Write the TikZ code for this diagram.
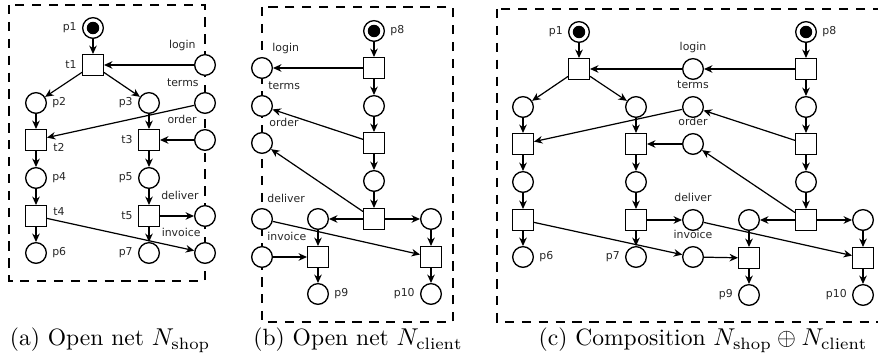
\documentclass[tikz,border=0pt]{standalone}
\usepackage{fontspec}
\newfontfamily\lblfont{DejaVu Sans}
\usetikzlibrary{arrows.meta,calc}
\begin{document}
\begin{tikzpicture}[x=0.45pt,y=-0.45pt,
  place/.style={circle,draw,fill=white,line width=0.6pt,minimum size=9.3pt,inner sep=0pt},
  marked/.style={place,path picture={\fill[black] (path picture bounding box.center) circle (2.8pt);}},
  trans/.style={rectangle,draw,fill=white,line width=0.6pt,minimum size=9.3pt,inner sep=0pt},
  arc/.style={-{Stealth[length=3.8pt,width=3.4pt]},line width=0.55pt},
  lbl/.style={font=\lblfont\fontsize{4.9}{5}\selectfont,text=black!85,inner sep=0pt},
  pl/.style={label={[lbl,label distance=2.2pt]left:#1}},
  pr/.style={label={[lbl,label distance=2.2pt]right:#1}},
  box/.style={dash pattern=on 4.2pt off 3.4pt,line width=0.55pt,draw=black},
  capt/.style={anchor=base,inner sep=0pt,font=\fontsize{10.6}{12}\selectfont}
]
\useasboundingbox (0,0) rectangle (878,360);

% ---------------- dashed boxes ----------------
\draw[box] (9,5) rectangle (205,281);
\draw[box] (262,7) rectangle (453,322);
\draw[box] (497,9) rectangle (900,322);

% ---------------- (a) shop ----------------
\node[marked,pl=p1] (pa1) at (93,28) {};
\node[trans,pl=t1] (ta1) at (93,65) {};
\node[place] (ia-login) at (205,65) {};
\node[place,pr=p2] (pa2) at (36,103) {};
\node[place,pl=p3] (pa3) at (149,103) {};
\node[place] (ia-terms) at (205,103) {};
\node[trans] (ta2) at (36,140) {};
\node[trans,pl=t3] (ta3) at (149,140) {};
\node[place] (ia-order) at (205,140) {};
\node[place,pr=p4] (pa4) at (36,178) {};
\node[place,pl=p5] (pa5) at (149,178) {};
\node[trans] (ta4) at (36,216) {};
\node[trans,pl=t5] (ta5) at (149,216) {};
\node[place] (ia-deliver) at (205,216) {};
\node[place,pr=p6] (pa6) at (36,253) {};
\node[place,pl=p7] (pa7) at (149,253) {};
\node[place] (ia-invoice) at (205,253) {};
\node[lbl,anchor=west] (lta2) at ($(ta2.east)+(6,7)$) {t2};
\node[lbl,anchor=west] (lta4) at ($(ta4.east)+(6,-4)$) {t4};
\node[lbl,anchor=base east] (la-login) at ($(ia-login)+(-9,-16)$) {login};
\node[lbl,anchor=base east] (la-terms) at ($(ia-terms)+(-6,-16)$) {terms};
\node[lbl,anchor=base east] (la-order) at ($(ia-order)+(-8,-16)$) {order};
\node[lbl,anchor=base east] (la-deliver) at ($(ia-deliver)+(-6,-16)$) {deliver};
\node[lbl,anchor=base east] (la-invoice) at ($(ia-invoice)+(-4,-16)$) {invoice};
\foreach \a/\b in {pa1/ta1,ia-login/ta1,ta1/pa2,ta1/pa3,pa2/ta2,ia-terms/ta2,pa3/ta3,
  ia-order/ta3,ta2/pa4,ta3/pa5,pa4/ta4,pa5/ta5,ta4/pa6,ta5/pa7,ta5/ia-deliver,ta4/ia-invoice}
  \draw[arc] (\a) -- (\b);

% ---------------- (b) client ----------------
\node[marked,pr=p8] (pb8) at (374,31) {};
\node[trans] (tb1) at (374,68) {};
\node[place] (ib-login) at (262,68) {};
\node[place] (pba) at (374,106) {};
\node[place] (ib-terms) at (262,106) {};
\node[trans] (tb2) at (374,143) {};
\node[place] (ib-order) at (262,143) {};
\node[place] (pbb) at (374,181) {};
\node[trans] (tb3) at (374,219) {};
\node[place] (ib-deliver) at (262,219) {};
\node[place] (pbl) at (318,219) {};
\node[place] (pbr) at (431,219) {};
\node[place] (ib-invoice) at (262,257) {};
\node[trans] (tb4) at (318,257) {};
\node[trans] (tb5) at (431,257) {};
\node[place,pr=p9] (pb9) at (318,294) {};
\node[place,pl=p10] (pb10) at (431,294) {};
\node[lbl,anchor=base west] (lb-login) at ($(ib-login)+(10,-16)$) {login};
\node[lbl,anchor=base west] (lb-terms) at ($(ib-terms)+(6,-16)$) {terms};
\node[lbl,anchor=base west] (lb-order) at ($(ib-order)+(7,-16)$) {order};
\node[lbl,anchor=base west] (lb-deliver) at ($(ib-deliver)+(5,-16)$) {deliver};
\node[lbl,anchor=base west] (lb-invoice) at ($(ib-invoice)+(5,-16)$) {invoice};
\foreach \a/\b in {pb8/tb1,tb1/ib-login,tb1/pba,pba/tb2,tb2/ib-terms,tb2/pbb,pbb/tb3,
  tb3/ib-order,tb3/pbl,tb3/pbr,pbl/tb4,ib-invoice/tb4,ib-deliver/tb5,pbr/tb5,tb4/pb9,tb5/pb10}
  \draw[arc] (\a) -- (\b);

% ---------------- (c) composition ----------------
\node[marked,pl=p1] (pc1) at (579,32) {};
\node[trans] (tc1) at (579,69) {};
\node[place] (c-login) at (693,69) {};
\node[marked,pr=p8] (pc8) at (806,32) {};
\node[trans] (tc6) at (806,69) {};
\node[place] (pc2) at (523,107) {};
\node[place] (pc3) at (636,107) {};
\node[place] (c-terms) at (693,107) {};
\node[place] (pca) at (806,107) {};
\node[trans] (tc2) at (523,144) {};
\node[trans] (tc3) at (636,144) {};
\node[place] (c-order) at (693,144) {};
\node[trans] (tc7) at (806,144) {};
\node[place] (pc4) at (523,182) {};
\node[place] (pc5) at (636,182) {};
\node[place] (pcb) at (806,182) {};
\node[trans] (tc4) at (523,220) {};
\node[trans] (tc5) at (636,220) {};
\node[place] (c-deliver) at (693,220) {};
\node[place] (pcl) at (749,220) {};
\node[trans] (tc8) at (806,220) {};
\node[place] (pcr) at (863,220) {};
\node[place,pr=p6] (pc6) at (523,257) {};
\node[place,pl=p7] (pc7) at (636,257) {};
\node[place] (c-invoice) at (693,257) {};
\node[trans] (tc9) at (749,258) {};
\node[trans] (tc10) at (863,258) {};
\node[place,pl=p9] (pc9) at (749,295) {};
\node[place,pl=p10] (pc10) at (863,295) {};
\foreach \n/\t in {login/login,terms/terms,order/order,deliver/deliver,invoice/invoice}
  \node[lbl,anchor=base] (lc-\n) at ($(c-\n)+(0,-18)$) {\t};
\foreach \a/\b in {pc1/tc1,c-login/tc1,tc1/pc2,tc1/pc3,pc2/tc2,c-terms/tc2,pc3/tc3,
  c-order/tc3,tc2/pc4,tc3/pc5,pc4/tc4,pc5/tc5,tc4/pc6,tc5/pc7,tc5/c-deliver,tc4/c-invoice,
  pc8/tc6,tc6/c-login,tc6/pca,pca/tc7,tc7/c-terms,tc7/pcb,pcb/tc8,tc8/c-order,tc8/pcl,
  tc8/pcr,pcl/tc9,c-invoice/tc9,c-deliver/tc10,pcr/tc10,tc9/pc9,tc10/pc10}
  \draw[arc] (\a) -- (\b);

% ---------------- captions ----------------
\node[capt] (capa) at (110,346) {(a) Open net $N_{\mathrm{shop}}$};
\node[capt] (capb) at (358,346) {(b) Open net $N_{\mathrm{client}}$};
\node[capt] (capc) at (703,346) {(c) Composition $N_{\mathrm{shop}}\oplus N_{\mathrm{client}}$};
\end{tikzpicture}
\end{document}
